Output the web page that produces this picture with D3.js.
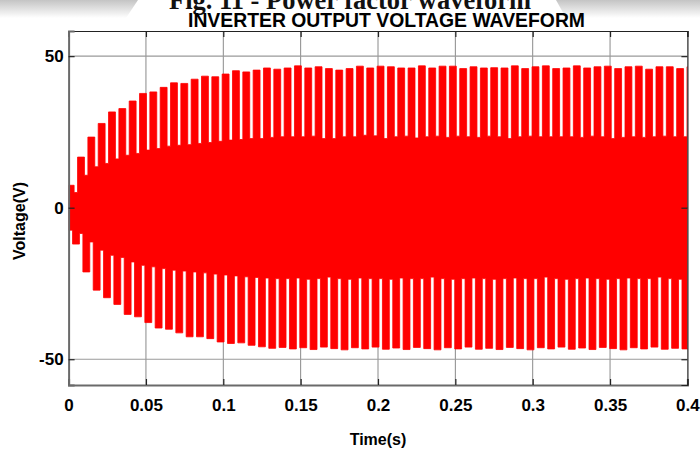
<!DOCTYPE html>
<html>
<head>
<meta charset="utf-8">
<script src="https://cdn.jsdelivr.net/npm/d3@7/dist/d3.min.js"></script>
<style>
  html, body { margin: 0; padding: 0; background: #fff; }
  svg { display: block; }
</style>
</head>
<body>
<div id="chart"></div>
<script>
// Inverter output voltage: pulse envelope of the switched waveform.
// Each upper pulse reaches upperPeaks[k]; between pulses the trace settles to upperGaps[k].
// Same for the lower (negative) pulses.
const xTicks = [0, 0.05, 0.1, 0.15, 0.2, 0.25, 0.3, 0.35, 0.4];
const xTickLabels = ["0", "0.05", "0.1", "0.15", "0.2", "0.25", "0.3", "0.35", "0.4"];
const yTicks = [-50, 0, 50];
const yTickLabels = ["-50", "0", "50"];

const pulsePeriod = 0.006677;      // s between successive pulses
const pulseDuty = 0.667;           // fraction of the period each pulse is high
const upperFirstCenter = 0.00134;  // s
const lowerFirstCenter = 0.00478;  // s
const lowerLead = -7.4;            // level before the first negative pulse

const upperPeaks = [7.4, 16.7, 23.3, 27.8, 31.6, 32.7, 35.2, 37.7, 38.2, 39.7,
  41.2, 41.0, 42.4, 43.4, 43.2, 44.1, 45.2, 44.8, 45.4, 46.1,
  45.7, 46.1, 46.8, 46.1, 46.5, 45.9, 45.4, 45.9, 46.7, 46.1,
  46.7, 46.5, 46.1, 46.1, 46.8, 46.1, 46.7, 46.7, 45.9, 46.5,
  46.1, 46.2, 46.1, 46.8, 45.9, 46.5, 46.8, 45.9, 46.1, 46.8,
  46.1, 46.5, 46.7, 45.9, 46.5, 46.7, 45.7, 46.5, 46.5, 45.9, 46.5];
const upperGaps = [5.0, 10.7, 13.5, 14.6, 16.1, 17.3, 17.9, 19.0, 19.5, 20.3,
  20.6, 20.8, 21.2, 21.5, 21.9, 22.3, 22.5, 22.8, 22.8, 23.2,
  23.4, 23.4, 23.4, 23.6, 22.8, 22.8, 23.4, 23.4, 23.9, 23.7,
  22.8, 23.4, 23.6, 23.0, 23.4, 23.6, 23.2, 23.6, 23.4, 23.2,
  23.6, 23.4, 22.8, 23.4, 23.6, 23.4, 23.4, 23.4, 23.4, 23.2,
  23.6, 23.4, 22.8, 23.2, 23.4, 23.2, 23.4, 23.6, 23.4, 23.4, 23.4];

const lowerPeaks = [-12.0, -21.2, -27.2, -29.7, -31.9, -35.2, -36.0, -37.9, -39.7, -40.1,
  -41.3, -42.6, -42.6, -43.2, -44.3, -44.8, -44.6, -45.4, -45.9, -46.4,
  -46.1, -46.6, -46.2, -46.8, -46.0, -46.5, -46.9, -46.2, -46.6, -46.0,
  -46.7, -46.3, -46.8, -46.1, -46.5, -46.9, -46.2, -46.6, -46.0, -46.7,
  -46.4, -46.8, -46.1, -46.5, -46.9, -46.2, -46.6, -46.0, -46.7, -46.3,
  -46.8, -46.1, -46.5, -46.9, -46.2, -46.6, -46.0, -46.7, -46.4, -46.6];
const lowerGaps = [-8.5, -11.3, -14.0, -15.7, -16.4, -17.9, -19.0, -19.5, -20.1, -20.6,
  -20.9, -21.2, -21.5, -21.9, -22.2, -22.5, -22.8, -23.0, -23.2, -23.4,
  -23.4, -23.2, -23.6, -23.4, -22.9, -23.4, -23.6, -23.2, -23.4, -23.4,
  -23.6, -23.2, -23.4, -23.4, -22.9, -23.4, -23.6, -23.4, -23.2, -23.4,
  -23.6, -23.4, -23.2, -23.4, -23.4, -22.9, -23.4, -23.6, -23.4, -23.2,
  -23.4, -23.6, -23.4, -23.2, -23.4, -23.4, -22.9, -23.4, -23.6, -23.4];

const W = 700, H = 451;
const margin = { left: 68.6, right: 700 - 687.4, top: 31, bottom: 451 - 385 };

const svg = d3.select("#chart").append("svg")
  .attr("width", W).attr("height", H)
  .style("font-family", "'Liberation Sans', Arial, Helvetica, sans-serif");

const x = d3.scaleLinear().domain([0, 0.4]).range([margin.left, W - margin.right]);
const y = d3.scaleLinear().domain([-58.5, 58.3]).range([H - margin.bottom, margin.top]);

// Soft grey page shading along the top corners
const defs = svg.append("defs");
const fade = defs.append("linearGradient").attr("id", "topFade")
  .attr("x1", 0).attr("y1", 0).attr("x2", 0).attr("y2", 1);
fade.append("stop").attr("offset", "0%").attr("stop-color", "#c4c4c4");
fade.append("stop").attr("offset", "100%").attr("stop-color", "#ffffff");
svg.append("path").attr("d", "M0,0 L138,0 L126,18 L0,18 Z").attr("fill", "url(#topFade)");
svg.append("path").attr("d", "M556,0 L700,0 L700,18 L566,18 Z").attr("fill", "url(#topFade)");

// Figure caption, its upper half runs off the top edge
svg.append("text")
  .attr("x", 350).attr("y", 9)
  .attr("text-anchor", "middle")
  .attr("textLength", 362).attr("lengthAdjust", "spacingAndGlyphs")
  .style("font-family", "'Liberation Serif', 'Times New Roman', serif")
  .style("font-weight", "bold")
  .style("font-size", "28px")
  .attr("fill", "#111")
  .text("Fig. 11 - Power factor waveform");

// Title
svg.append("text")
  .attr("x", 386.5).attr("y", 27)
  .attr("text-anchor", "middle")
  .attr("textLength", 397).attr("lengthAdjust", "spacingAndGlyphs")
  .style("font-weight", "bold")
  .style("font-size", "20px")
  .attr("fill", "#000")
  .text("INVERTER OUTPUT VOLTAGE WAVEFORM");

const plot = svg.append("g");
const x0 = x(0), x1 = x(0.4), yTop = y.range()[1], yBot = y.range()[0];

plot.append("rect")
  .attr("x", x0).attr("y", yTop)
  .attr("width", x1 - x0).attr("height", yBot - yTop)
  .attr("fill", "#fff");

// Grid
plot.selectAll("line.vgrid").data(xTicks.slice(1, -1)).enter().append("line")
  .attr("class", "vgrid")
  .attr("x1", d => x(d)).attr("x2", d => x(d))
  .attr("y1", yTop).attr("y2", yBot)
  .attr("stroke", "#8a8a8a").attr("stroke-width", 1);
plot.selectAll("line.hgrid").data(yTicks).enter().append("line")
  .attr("class", "hgrid")
  .attr("x1", x0).attr("x2", x1)
  .attr("y1", d => y(d)).attr("y2", d => y(d))
  .attr("stroke", "#9a9a9a").attr("stroke-width", 1.2);

// Build the waveform outline from the pulse tables
function boundary(peaks, gaps, firstCenter, lead) {
  const half = pulsePeriod * pulseDuty / 2;
  const pts = [];
  peaks.forEach((p, k) => {
    const c = firstCenter + k * pulsePeriod;
    const L = c - half, R = c + half;
    if (k === 0) {
      if (L > 0) { pts.push([0, lead]); pts.push([L, lead]); }
      else { pts.push([0, p]); }
    } else {
      pts.push([L, gaps[k - 1]]);
    }
    if (L > 0) pts.push([L, p]);
    pts.push([R, p]);
    pts.push([R, gaps[k]]);
  });
  return pts;
}

const upper = boundary(upperPeaks, upperGaps, upperFirstCenter, upperGaps[0]);
const lower = boundary(lowerPeaks, lowerGaps, lowerFirstCenter, lowerLead);
const outline = upper.concat(lower.slice().reverse());

svg.append("clipPath").attr("id", "plotClip")
  .append("rect").attr("x", x0).attr("y", yTop)
  .attr("width", x1 - x0).attr("height", yBot - yTop);

const line = d3.line().x(d => x(d[0])).y(d => y(d[1]));
plot.append("path")
  .attr("clip-path", "url(#plotClip)")
  .attr("d", line(outline) + "Z")
  .attr("fill", "#ff0000")
  .attr("stroke", "#ff0000")
  .attr("stroke-width", 0.8)
  .attr("stroke-linejoin", "round");

// Axes box with inward ticks
const xAxisB = d3.axisBottom(x).tickValues(xTicks).tickSize(-6).tickFormat((d, i) => xTickLabels[i]).tickPadding(14);
const xAxisT = d3.axisTop(x).tickValues(xTicks).tickSize(-6).tickFormat("");
const yAxisL = d3.axisLeft(y).tickValues(yTicks).tickSize(-6).tickFormat((d, i) => yTickLabels[i]).tickPadding(5);
const yAxisR = d3.axisRight(y).tickValues(yTicks).tickSize(-6).tickFormat("");

function style(g, col, w) {
  g.select(".domain").attr("stroke", col).attr("stroke-width", w);
  g.selectAll(".tick line").attr("stroke", "#222").attr("stroke-width", 1.2);
  g.selectAll(".tick text")
    .attr("fill", "#000")
    .style("font-family", "'Liberation Sans', Arial, Helvetica, sans-serif")
    .style("font-weight", "bold")
    .style("font-size", "17px");
}

svg.append("g").attr("transform", `translate(0,${yBot})`).call(xAxisB).call(g => style(g, "#6a6a6a", 2));
svg.append("g").attr("transform", `translate(0,${yTop})`).call(xAxisT).call(g => style(g, "#222", 1.2));
svg.append("g").attr("transform", `translate(${x0},0)`).call(yAxisL).call(g => style(g, "#6a6a6a", 2));
svg.append("g").attr("transform", `translate(${x1},0)`).call(yAxisR).call(g => style(g, "#222", 1.2));

// Axis titles
svg.append("text")
  .attr("x", 378).attr("y", 445)
  .attr("text-anchor", "middle")
  .style("font-weight", "bold").style("font-size", "16px")
  .text("Time(s)");

svg.append("text")
  .attr("transform", "translate(25,221) rotate(-90)")
  .attr("text-anchor", "middle")
  .style("font-weight", "bold").style("font-size", "16px")
  .text("Voltage(V)");
</script>
</body>
</html>
